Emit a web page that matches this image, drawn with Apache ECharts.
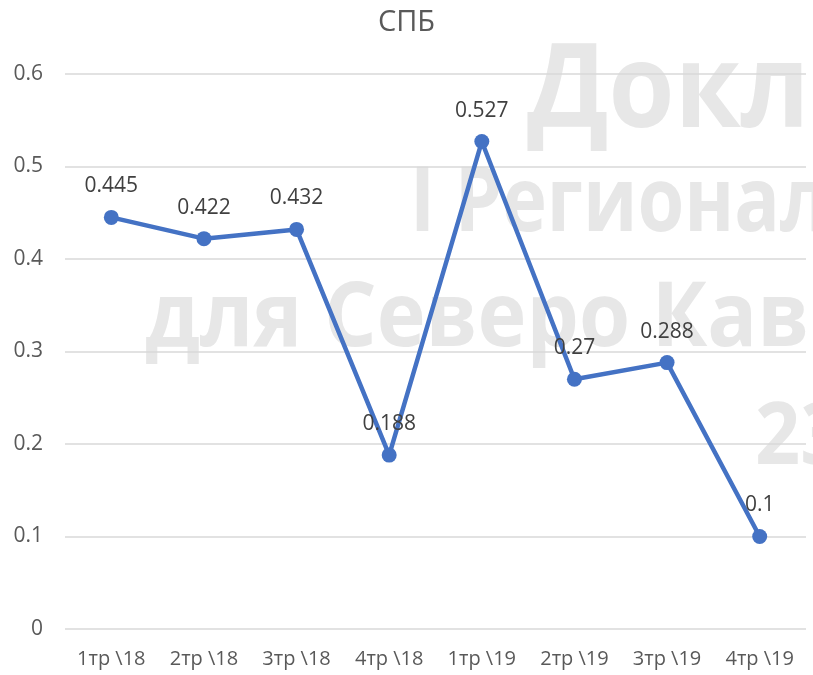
<!DOCTYPE html>
<html>
<head>
<meta charset="utf-8">
<script src="https://cdn.jsdelivr.net/npm/echarts@6/dist/echarts.min.js"></script>
<style>
  html, body { margin: 0; padding: 0; background: #fff; }
  #chart { width: 813px; height: 675px; }
</style>
</head>
<body>
<div id="chart"></div>
<script>
// quarters and values
const quarters = ['1тр \\18', '2тр \\18', '3тр \\18', '4тр \\18', '1тр \\19', '2тр \\19', '3тр \\19', '4тр \\19'];
const values = [0.445, 0.422, 0.432, 0.188, 0.527, 0.27, 0.288, 0.1];

const font = '"Open Sans", sans-serif';

// faint watermark text behind the plot
function mark(text, x, y, size, sx) {
    return {
        type: 'text', z: -10, x: x, y: y, scaleX: sx,
        style: {
            text: text, fontSize: size, fontFamily: font, fontWeight: 'bold',
            fill: '#e7e7e7', verticalAlign: 'top'
        }
    };
}

let chart = echarts.init(document.getElementById('chart'));

chart.setOption({
    backgroundColor: '#fff',
    title: {
        text: 'СПБ',
        left: 'center',
        top: 3,
        textStyle: { fontFamily: font, fontSize: 29, fontWeight: 'normal', color: '#595959' }
    },
    graphic: [
        mark('Докл', 527, 36, 116, 0.92),
        mark('I Регионал', 410, 160, 90, 0.84),
        mark('для Северо Кав', 145, 276, 89, 0.93),
        mark('23', 755, 396, 86, 0.92)
    ],
    grid: { left: 65, right: 7, top: 74, bottom: 46 },
    xAxis: {
        type: 'category',
        data: quarters,
        axisLine: { show: false },
        axisTick: { show: false },
        axisLabel: { interval: 0, fontFamily: font, fontSize: 20, color: '#595959', margin: 20 }
    },
    yAxis: {
        type: 'value',
        min: 0,
        max: 0.6,
        interval: 0.1,
        axisLabel: { fontFamily: font, fontSize: 21, color: '#595959', margin: 22 },
        splitLine: { lineStyle: { color: '#d9d9d9', width: 1.5 } }
    },
    series: [{
        type: 'line',
        data: values,
        symbol: 'circle',
        symbolSize: 15,
        lineStyle: { color: '#4472C4', width: 4.5 },
        itemStyle: { color: '#4472C4' },
        label: {
            show: true,
            position: 'top',
            distance: 13,
            fontFamily: font,
            fontSize: 21,
            color: '#404040'
        }
    }]
});
</script>
</body>
</html>
